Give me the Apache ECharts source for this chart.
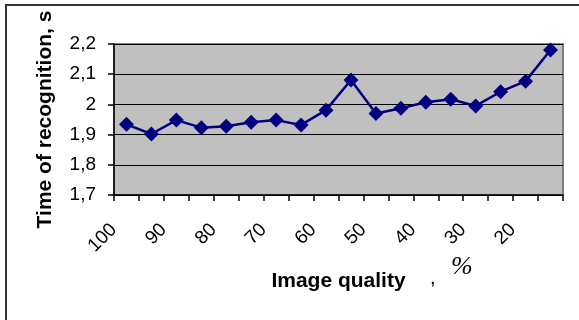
<!DOCTYPE html>
<html>
<head>
<meta charset="utf-8">
<script src="https://cdn.jsdelivr.net/npm/echarts@6/dist/echarts.min.js"></script>
<style>html,body{margin:0;padding:0;background:#fff}#c{width:579px;height:320px}</style>
</head>
<body>
<div id="c"></div>
<script>
var categories = ['100','95','90','85','80','75','70','65','60','55','50','45','40','35','30','25','20','15'];
var times = [1.934, 1.902, 1.948, 1.923, 1.928, 1.941, 1.948, 1.932, 1.981, 2.081, 1.970, 1.987, 2.007, 2.017, 1.995, 2.042, 2.077, 2.180];
var yTicks = {min: 1.7, max: 2.2, interval: 0.1};

var chart = echarts.init(document.getElementById('c'), null, {renderer: 'canvas'});
chart.setOption({
  animation: false,
  backgroundColor: '#fff',
  grid: {left: 114, top: 44, right: 16, bottom: 125, show: true, backgroundColor: '#c0c0c0', borderColor: '#808080', borderWidth: 2},
  xAxis: {
    type: 'category',
    data: categories,
    boundaryGap: true,
    name: 'Image quality',
    nameLocation: 'middle',
    nameGap: 76,
    nameTextStyle: {fontFamily: 'Liberation Sans', fontWeight: 'bold', fontSize: 21, color: '#000'},
    axisLine: {lineStyle: {color: '#000', width: 1.5}},
    axisTick: {show: true, interval: 0, alignWithLabel: false, length: 6, lineStyle: {color: '#000', width: 1.5}},
    axisLabel: {interval: 1, rotate: 45, margin: 19, padding: [0, 18, 0, 0], fontFamily: 'Liberation Sans', fontSize: 19, color: '#000'},
    splitLine: {show: false}
  },
  yAxis: {
    type: 'value',
    min: yTicks.min, max: yTicks.max, interval: yTicks.interval,
    name: 'Time of recognition, s',
    nameLocation: 'middle',
    nameGap: 58,
    nameTextStyle: {fontFamily: 'Liberation Sans', fontWeight: 'bold', fontSize: 21, color: '#000'},
    axisLine: {show: true, lineStyle: {color: '#000', width: 1.5}},
    axisTick: {show: true, length: 6, lineStyle: {color: '#000', width: 1.5}},
    axisLabel: {margin: 18, fontFamily: 'Liberation Sans', fontSize: 19, color: '#000',
      formatter: function (v) { return String(Math.round(v * 10) / 10).replace('.', ','); }},
    splitLine: {show: true, lineStyle: {color: '#000', width: 1}}
  },
  series: [{
    type: 'line',
    data: times,
    symbol: 'diamond',
    symbolSize: 15,
    lineStyle: {color: '#000080', width: 2.5},
    itemStyle: {color: '#000080'}
  }],
  graphic: [
    {type: 'line', shape: {x1: 5, y1: 5, x2: 579, y2: 5}, style: {stroke: '#333', lineWidth: 2}},
    {type: 'line', shape: {x1: 6, y1: 4, x2: 6, y2: 320}, style: {stroke: '#333', lineWidth: 2}},
    {type: 'text', left: 430, top: 268, style: {text: ',', font: '20px "Liberation Sans"', fill: '#000'}},
    {type: 'text', left: 451, top: 254, style: {text: '%', font: 'italic 26px "Liberation Serif"', fill: '#000'}}
  ]
});
</script>
</body>
</html>
